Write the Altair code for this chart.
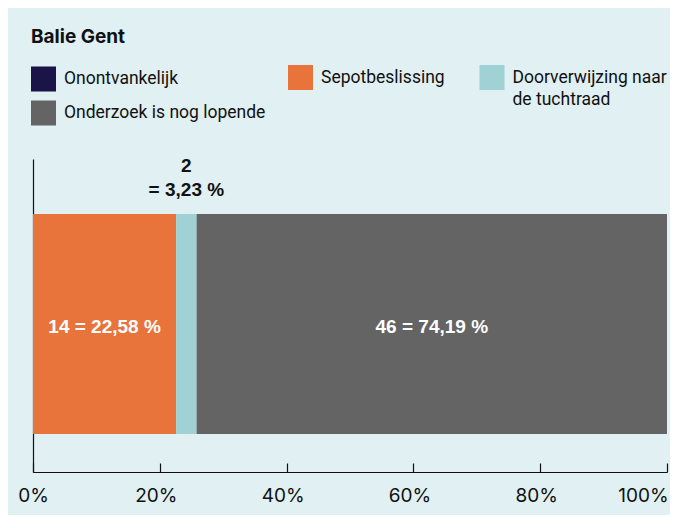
import altair as alt
import pandas as pd

# ---- data ----
categories = ["Onontvankelijk", "Sepotbeslissing", "Doorverwijzing naar de tuchtraad", "Onderzoek is nog lopende"]
counts = [0, 14, 2, 46]
colors = ["#1B1446", "#E8743B", "#9FD1D5", "#646464"]
group = "Balie Gent"
tick_values = [0, 0.2, 0.4, 0.6, 0.8, 1.0]
# legend split: left column (with title) and the right-hand entries of the first row
legend_left = [categories[0], categories[3]]
legend_right = [categories[1], categories[2]]
legend_right_colors = [colors[1], colors[2]]

df = pd.DataFrame({
    "cat": categories,
    "n": counts,
    "idx": list(range(len(categories))),
    "grp": [group] * len(categories),
})

W, H = 634, 313
BG = "#E0F0F3"
INK = "#111111"

base = (
    alt.Chart(df)
    .transform_joinaggregate(total="sum(n)")
    .transform_window(cum="sum(n)", sort=[alt.SortField("idx")], frame=[None, 0])
    .transform_calculate(
        pct="datum.n / datum.total",
        mid="(datum.cum - datum.n / 2) / datum.total",
        lab="format(datum.n, 'd') + ' = ' + replace(format(datum.n / datum.total * 100, '.2f'), '.', ',') + ' %'",
        lab2="format(datum.n, 'd') + '\\n= ' + replace(format(datum.n / datum.total * 100, '.2f'), '.', ',') + ' %'",
    )
)

xscale = alt.Scale(domain=[0, 1], nice=False, zero=True)
yscale = alt.Scale(paddingInner=0, paddingOuter=0.2114, align=0.591)
yaxis = alt.Axis(labels=False, ticks=False, domain=True, domainColor=INK, domainWidth=1.2, title=None, grid=False)

y_enc = alt.Y("grp:N", scale=yscale, axis=yaxis, title=None)
y_top = alt.Y("grp:N", scale=yscale, axis=yaxis, title=None, bandPosition=0)

bottom_axis = alt.Axis(
    orient="bottom", values=tick_values, format="%", ticks=False, tickSize=0,
    labelPadding=14, domainColor=INK, domainWidth=1.2, labelFont="Inter", labelFontSize=19,
    labelColor=INK, title=None, grid=False, labelFlush=False,
    labelOffset={"condition": [{"test": "datum.value == 0", "value": 0},
                               {"test": "datum.value >= 1", "value": -24}], "value": -4},
)
top_axis = alt.Axis(
    orient="top", offset=-H, values=tick_values, labels=False, domain=False, ticks=True,
    tickSize=9, tickColor=INK, tickWidth=1.2, title=None, grid=False,
)

common_legend = dict(
    orient="none", symbolType="square", symbolSize=625, symbolStrokeWidth=0, symbolOpacity=1,
    labelFont="Roboto", labelFontSize=17.5, labelColor=INK, labelOffset=8, labelLimit=400,
    padding=0,
)

legend_a = alt.Legend(
    title="Balie Gent", legendX=-2, legendY=-131.5, columns=1, values=legend_left,
    titleFont="Inter", titleFontSize=19, titleFontWeight="bold", titleColor=INK,
    titlePadding=20, titleAnchor="start", titleAlign="left", rowPadding=9,
    **common_legend,
)

legend_b = alt.Legend(
    title=None, legendX=255, legendY=-94, columns=2, values=legend_right,
    columnPadding=34.5,
    labelExpr="datum.label == 'Doorverwijzing naar de tuchtraad' ? ['Doorverwijzing naar', 'de tuchtraad'] : [datum.label, '']",
    **common_legend,
)

bars = base.mark_bar().encode(
    x=alt.X("n:Q", stack="normalize", scale=xscale, axis=bottom_axis),
    y=y_enc,
    color=alt.Color("cat:N", scale=alt.Scale(domain=categories, range=colors), legend=legend_a),
    order=alt.Order("idx:Q"),
)

inside = base.transform_filter("datum.pct > 0.1").mark_text(
    font="Liberation Sans", fontWeight="bold", fontSize=19, color="white", baseline="middle", dy=3
).encode(
    x=alt.X("mid:Q", scale=xscale, axis=top_axis),
    y=y_enc,
    text="lab:N",
)

outside = base.transform_filter("datum.pct > 0 && datum.pct <= 0.1").mark_text(
    font="Liberation Sans", fontWeight="bold", fontSize=19, color=INK, baseline="alphabetic",
    lineBreak="\n", lineHeight=23.7, dy=-42
).encode(
    x=alt.X("mid:Q", scale=xscale, axis=None),
    y=y_top,
    text="lab2:N",
)

conn = base.transform_filter("datum.pct > 0 && datum.pct <= 0.1").mark_tick(
    orient="vertical", size=7, thickness=1.2, yOffset=-3.5, opacity=1
).encode(
    x=alt.X("mid:Q", scale=xscale, axis=None),
    y=y_top,
    fill=alt.Fill("cat:N", scale=alt.Scale(domain=legend_right, range=legend_right_colors), legend=legend_b),
)

chart = (
    alt.layer(bars, inside, outside, conn)
    .resolve_axis(x="independent")
    .properties(
        width=W, height=H, background=BG,
        padding={"left": 25, "top": 151, "right": 3, "bottom": 43},
        autosize=alt.AutoSizeParams(type="none"),
    )
    .configure(style={"guide-label": {"lineHeight": 22}})
    .configure_view(stroke=None)
)

chart.save("out.html", embed_options={"renderer": "svg", "actions": False})
